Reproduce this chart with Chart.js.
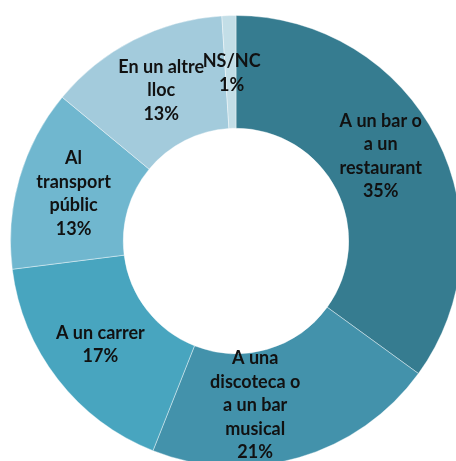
<!DOCTYPE html>
<html><head><meta charset="utf-8">
<script src="https://cdn.jsdelivr.net/npm/chart.js@4/dist/chart.umd.min.js"></script>
<style>
html,body{margin:0;padding:0;background:#fff;overflow:hidden;width:456px;height:461px;}
#wrap{position:absolute;left:10px;top:15px;width:452px;height:452px;}
</style></head>
<body>
<div id="wrap"><canvas id="c" width="452" height="452"></canvas></div>
<script>
const categories = [
  ["A un bar o", "a un", "restaurant"],
  ["A una", "discoteca o", "a un bar", "musical"],
  ["A un carrer"],
  ["Al", "transport", "públic"],
  ["En un altre", "lloc"],
  ["NS/NC"]
];
const values = [35, 21, 17, 13, 13, 1];
const percentLabels = ["35%", "21%", "17%", "13%", "13%", "1%"];
const colors = ["#367C90", "#4392AB", "#48A5BF", "#70B7CF", "#A3CBDC", "#C3DEE7"];
const labelShift = [[-6, -8], [-28, 2], [-2, 0], [0, 0], [2, 0], [1, 1]];

const labelPlugin = {
  id: 'sliceLabels',
  afterDatasetsDraw(chart) {
    const ctx = chart.ctx;
    const meta = chart.getDatasetMeta(0);
    ctx.save();
    ctx.font = 'bold 18px "Lato", "Open Sans", sans-serif';
    ctx.fillStyle = '#111';
    ctx.textAlign = 'center';
    ctx.textBaseline = 'middle';
    const lh = 23.5;
    meta.data.forEach((arc, i) => {
      const p = arc.tooltipPosition();
      const lines = categories[i].concat([percentLabels[i]]);
      const x = p.x + labelShift[i][0];
      const y0 = p.y + labelShift[i][1] - (lines.length - 1) * lh / 2;
      lines.forEach((t, k) => {
        ctx.fillText(t, x, y0 + k * lh);
      });
    });
    ctx.restore();
  }
};

new Chart(document.getElementById('c'), {
  type: 'doughnut',
  data: {
    labels: categories.map(c => c.join(' ')),
    datasets: [{
      data: values,
      backgroundColor: colors,
      borderColor: 'rgba(255,255,255,0.4)',
      borderWidth: 1
    }]
  },
  options: {
    responsive: false,
    animation: false,
    cutout: '50%',
    layout: { padding: 0 },
    plugins: { legend: { display: false }, tooltip: { enabled: false } }
  },
  plugins: [labelPlugin]
});
</script>
</body></html>
